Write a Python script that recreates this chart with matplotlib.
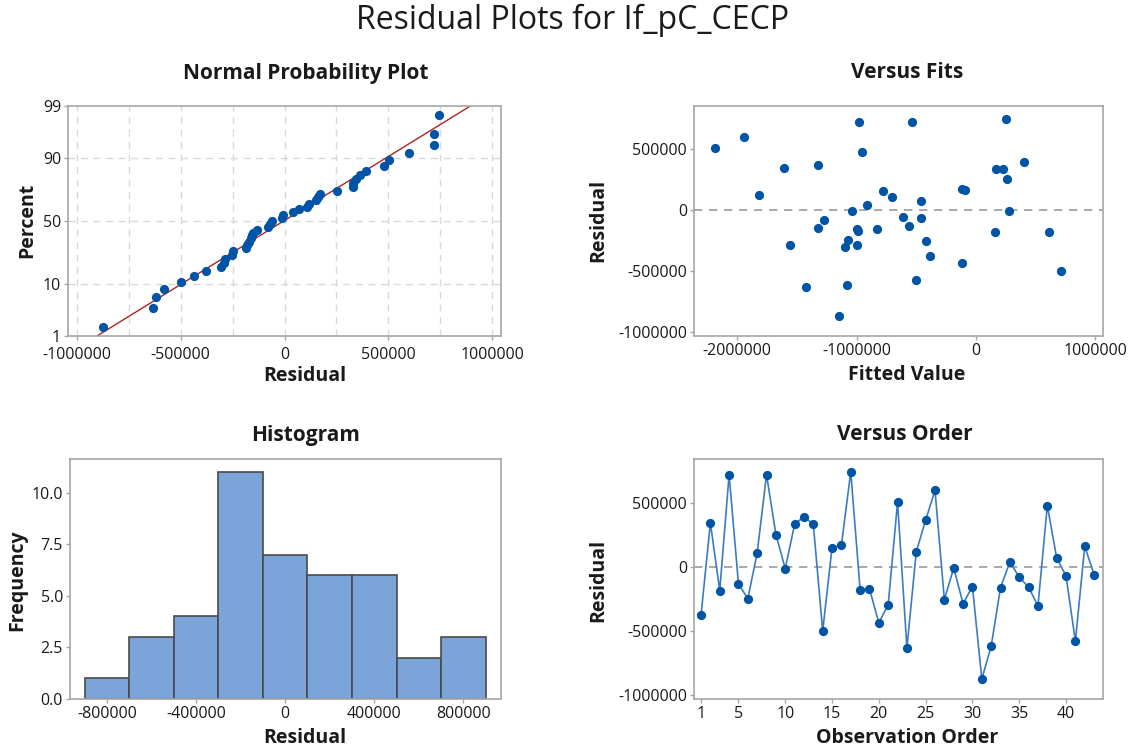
import numpy as np
import matplotlib
matplotlib.use("Agg")
import matplotlib.pyplot as plt
from statistics import NormalDist

plt.rcParams['font.family'] = ['Open Sans', 'DejaVu Sans']

# Residuals in observation order
residuals = [
    -376000, 343000, -184000, 719000, -132000, -247000, 109000, 719000, 252000, -13000,
    332000, 392000, 332000, -499000, 151000, 169000, 742000, -182000, -171000, -436000,
    -293000, 504000, -631000, 119000, 364000, 597000, -254000, -8000, -286000, -153000,
    -873000, -618000, -161000, 39000, -80000, -158000, -304000, 478000, 70000, -70000,
    -579000, 161000, -60000,
]
# Fitted values in observation order
fitted = [
    -388000, -1609000, 611000, -978000, -566000, -1072000, -703000, -536000, 262000, -1039000,
    167000, 399000, 223000, 714000, -778000, -117000, 254000, 159000, -989000, -114000,
    -1556000, -2187000, -1428000, -1816000, -1322000, -1944000, -421000, 276000, -1000000, -1322000,
    -1147000, -1083000, -828000, -915000, -1272000, -1000000, -1094000, -954000, -463000, -463000,
    -502000, -95000, -611000,
]
hist_edges = [-900000, -700000, -500000, -300000, -100000, 100000, 300000, 500000, 700000, 900000]
pct_ticks = [1, 10, 50, 90, 99]

res = np.array(residuals, dtype=float)
fit = np.array(fitted, dtype=float)
n = len(res)
order = np.arange(1, n + 1)

DOT = '#0054A6'
LINE = '#3A7CC4'
SPINE = '#A6A6A6'
TXT = '#1a1a1a'
TICKSIZE = 11.5
TITLESIZE = 15
LABELSIZE = 14

W, H = 1147, 752
fig = plt.figure(figsize=(W / 100, H / 100), dpi=100)


def px_axes(left, top, right, bottom):
    return fig.add_axes([left / W, 1 - bottom / H, (right - left) / W, (bottom - top) / H])


def style(ax):
    for s in ax.spines.values():
        s.set_color(SPINE)
        s.set_linewidth(1.2)
    ax.tick_params(colors=SPINE, labelcolor=TXT, labelsize=TICKSIZE, length=3, width=1, pad=2)


def ftext(x, y, s, **kw):
    fig.text(x / W, 1 - y / H, s, ha='center', va='center', color=TXT, **kw)


ftext(573, 20, 'Residual Plots for If_pC_CECP', fontsize=23)

# --- Normal probability plot ---
nd = NormalDist()
ax1 = px_axes(68, 106, 501, 336)
style(ax1)
ax1.tick_params(axis='x', pad=5)
srt = np.sort(res)
pp = (np.arange(1, n + 1) - 0.3) / (n + 0.4)
z = np.array([nd.inv_cdf(p) for p in pp])
zlo, zhi = nd.inv_cdf(0.01), nd.inv_cdf(0.99)
mu, sd = res.mean(), res.std(ddof=1)
ax1.set_xlim(-1042000, 1042000)
ax1.set_ylim(zlo, zhi)
for gx in np.arange(-1000000, 1000001, 250000):
    ax1.axvline(gx, color='#D9D9D9', ls=(0, (5, 4)), lw=1, zorder=0)
for p in [10, 50, 90]:
    ax1.axhline(nd.inv_cdf(p / 100), color='#D9D9D9', ls=(0, (5, 4)), lw=1, zorder=0)
zl = np.array([zlo, zhi])
ax1.plot(mu + sd * zl, zl, color='#B22222', lw=1, zorder=2)
ax1.scatter(srt, z, s=44, color=DOT, zorder=3, linewidths=0)
ax1.set_xticks([-1000000, -500000, 0, 500000, 1000000])
ax1.set_xticklabels(['-1000000', '-500000', '0', '500000', '1000000'])
ax1.set_yticks([nd.inv_cdf(p / 100) for p in pct_ticks])
ax1.set_yticklabels([str(p) for p in pct_ticks])
ftext(306, 73, 'Normal Probability Plot', fontsize=TITLESIZE, fontweight='bold')
ftext(305, 376, 'Residual', fontsize=LABELSIZE, fontweight='bold')
ftext(27, 220, 'Percent', fontsize=LABELSIZE, fontweight='bold', rotation=90)

# --- Versus fits ---
ax2 = px_axes(694, 106, 1103, 336)
style(ax2)
ax2.set_xlim(-2363000, 1063000)
ax2.set_ylim(-1036000, 852000)
ax2.axhline(0, color='#999999', ls=(0, (5, 4)), lw=1.2, zorder=1)
ax2.scatter(fit, res, s=44, color=DOT, zorder=3, linewidths=0)
ax2.set_xticks([-2000000, -1000000, 0, 1000000])
ax2.set_xticklabels(['-2000000', '-1000000', '0', '1000000'])
ax2.set_yticks([-1000000, -500000, 0, 500000])
ax2.set_yticklabels(['-1000000', '-500000', '0', '500000'])
ftext(907, 73, 'Versus Fits', fontsize=TITLESIZE, fontweight='bold')
ftext(907, 375, 'Fitted Value', fontsize=LABELSIZE, fontweight='bold')
ftext(598, 220, 'Residual', fontsize=LABELSIZE, fontweight='bold', rotation=90)

# --- Histogram ---
ax3 = px_axes(70, 459, 501, 699)
style(ax3)
ax3.hist(res, bins=hist_edges, color='#7BA5D8', edgecolor='#4A4A4A', linewidth=1.2, zorder=2)
ax3.set_xlim(-966000, 969000)
ax3.set_ylim(0, 11.63)
ax3.set_xticks([-800000, -400000, 0, 400000, 800000])
ax3.set_xticklabels(['-800000', '-400000', '0', '400000', '800000'])
ax3.set_yticks([0, 2.5, 5, 7.5, 10])
ax3.set_yticklabels(['0.0', '2.5', '5.0', '7.5', '10.0'])
ftext(306, 435, 'Histogram', fontsize=TITLESIZE, fontweight='bold')
ftext(305, 738, 'Residual', fontsize=LABELSIZE, fontweight='bold')
ftext(17, 580, 'Frequency', fontsize=LABELSIZE, fontweight='bold', rotation=90)

# --- Versus order ---
ax4 = px_axes(694, 459, 1103, 699)
style(ax4)
ax4.set_xlim(0.25, 43.95)
ax4.set_ylim(-1029000, 841000)
ax4.axhline(0, color='#999999', ls=(0, (5, 4)), lw=1.2, zorder=1)
ax4.plot(order, res, color=LINE, lw=1.2, zorder=2)
ax4.scatter(order, res, s=44, color=DOT, zorder=3, linewidths=0)
ax4.set_xticks([1, 5, 10, 15, 20, 25, 30, 35, 40])
ax4.set_yticks([-1000000, -500000, 0, 500000])
ax4.set_yticklabels(['-1000000', '-500000', '0', '500000'])
ftext(905, 435, 'Versus Order', fontsize=TITLESIZE, fontweight='bold')
ftext(907, 738, 'Observation Order', fontsize=LABELSIZE, fontweight='bold')
ftext(598, 580, 'Residual', fontsize=LABELSIZE, fontweight='bold', rotation=90)

fig.savefig('out.png', dpi=100, facecolor='white')
